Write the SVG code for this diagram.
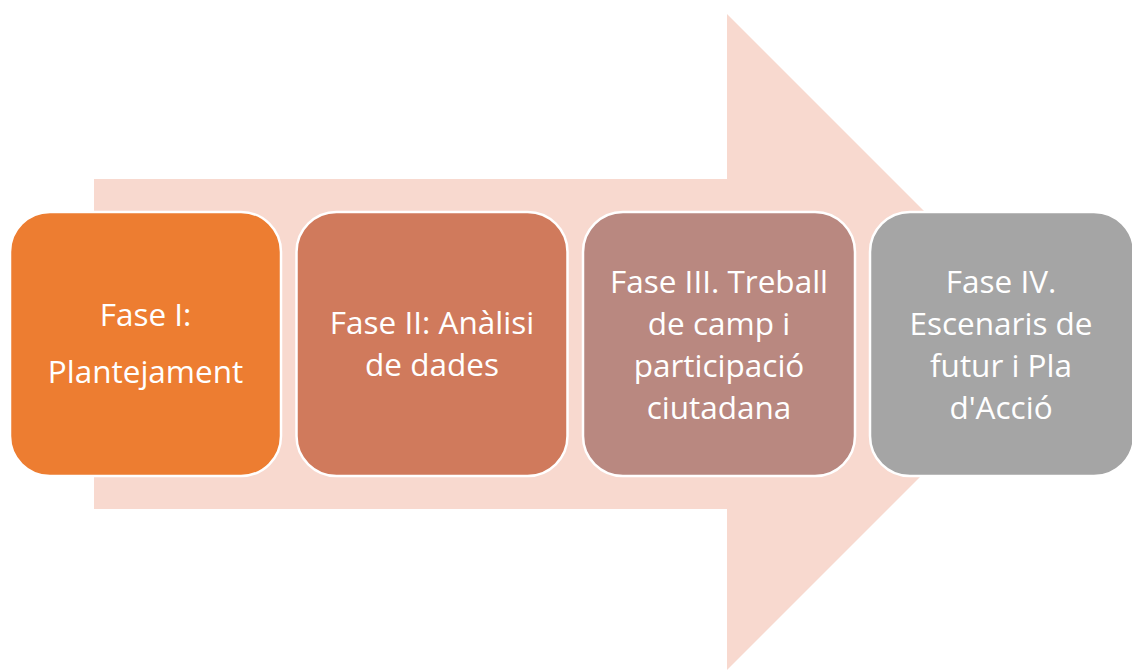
<svg xmlns="http://www.w3.org/2000/svg" width="1132" height="671" viewBox="0 0 1132 671">
<style>
.box{stroke:#fff;stroke-width:2.5}
.t{font-family:"Open Sans","Liberation Sans",sans-serif;font-size:31.5px;fill:#fff;text-anchor:middle}
</style>
<rect width="1132" height="671" fill="#fff"/>
<g id="arrow">
<path d="M94 179 H727 V14 L1055 342 L727 670 V509 H94 Z" fill="#F8D9CF"/>
</g>
<g id="node1">
<rect class="box" x="10" y="212" width="271" height="264" rx="40" fill="#ED7D31"/>
<text class="t" x="145.5" y="326">Fase I:</text>
<text class="t" x="145.5" y="383">Plantejament</text>
</g>
<g id="node2">
<rect class="box" x="296.5" y="212" width="271" height="264" rx="40" fill="#D07A5C"/>
<text class="t" x="432" y="334">Fase II: Anàlisi</text>
<text class="t" x="432" y="376">de dades</text>
</g>
<g id="node3">
<rect class="box" x="583" y="212" width="272" height="264" rx="40" fill="#B98880"/>
<text class="t" x="719" y="293">Fase III. Treball</text>
<text class="t" x="719" y="335">de camp i</text>
<text class="t" x="719" y="377">participació</text>
<text class="t" x="719" y="419">ciutadana</text>
</g>
<g id="node4">
<rect class="box" x="870" y="212" width="264" height="264" rx="40" fill="#A5A5A5"/>
<text class="t" x="1001" y="293">Fase IV.</text>
<text class="t" x="1001" y="335">Escenaris de</text>
<text class="t" x="1001" y="377">futur i Pla</text>
<text class="t" x="1001" y="419">d'Acció</text>
</g>
</svg>
